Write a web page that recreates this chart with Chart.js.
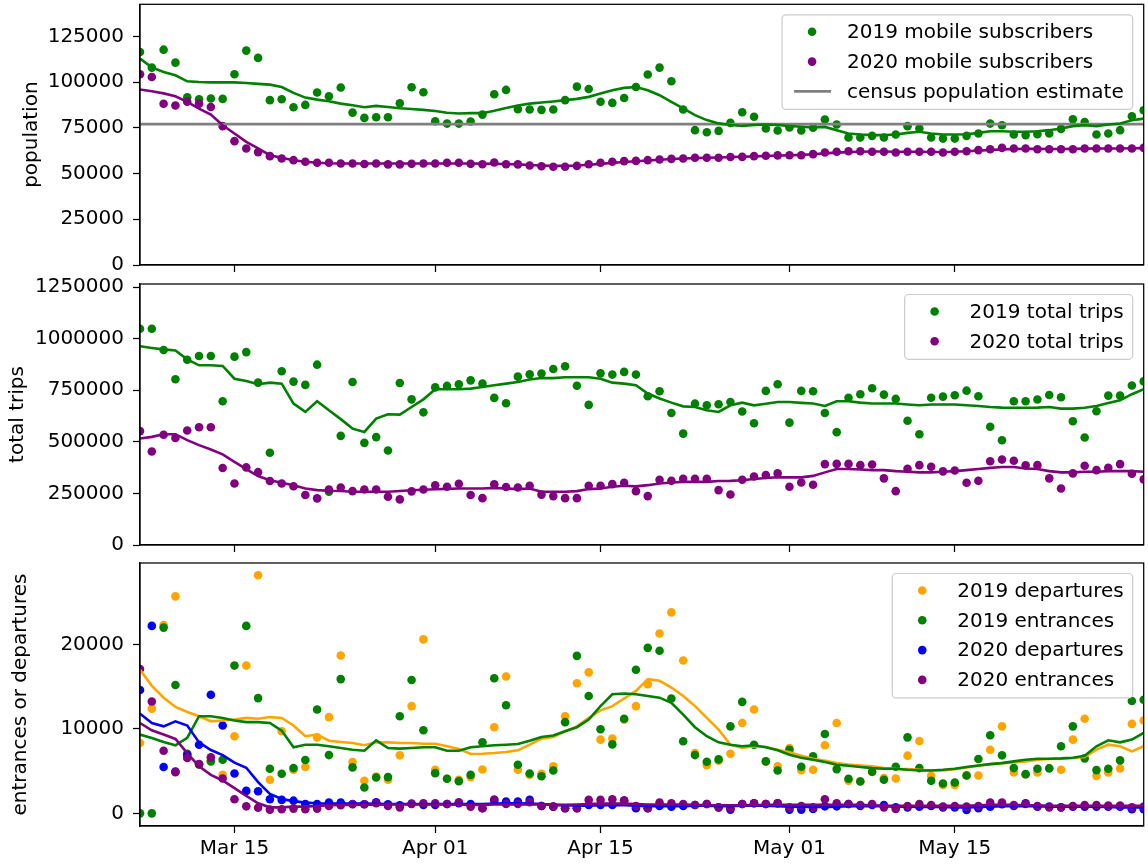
<!DOCTYPE html>
<html>
<head>
<meta charset="utf-8">
<script src="https://cdn.jsdelivr.net/npm/chart.js@4.4.0/dist/chart.umd.min.js"></script>
<style>
  html, body { margin: 0; padding: 0; background: #fff; }
  #wrap { position: relative; width: 1148px; height: 864px; overflow: hidden; }
  canvas { position: absolute; left: 0; }
</style>
</head>
<body>
<div id="wrap">
  <canvas id="popChart" width="1148" height="290" style="top:0px"></canvas>
  <canvas id="tripsChart" width="1148" height="290" style="top:270px"></canvas>
  <canvas id="flowChart" width="1148" height="314" style="top:550px"></canvas>
</div>
<script>
// ---- data (one value per day, Mar 7 .. May 31) ----
const startDay = '2020-03-07';
const tickDates = ['2020-03-15', '2020-04-01', '2020-04-15', '2020-05-01', '2020-05-15'];
const tickLabels = ['Mar 15', 'Apr 01', 'Apr 15', 'May 01', 'May 15'];

const popTicks = [0, 25000, 50000, 75000, 100000, 125000];
const tripTicks = [0, 250000, 500000, 750000, 1000000, 1250000];
const flowTicks = [0, 10000, 20000];

const censusPopulation = 77000;

const pop2019 = [
  116400,107900,117700,110600,91700,90600,91000,90800,104300,117200,
  113200,90100,90600,86200,87500,94300,92200,97000,83300,80400,
  80800,80800,88400,97200,94400,78600,77300,77300,78400,82200,
  93300,95700,85200,85000,84800,85000,90100,97500,96200,89200,
  88600,91300,97300,104100,107900,100400,85000,73700,72600,73300,
  77700,83500,81000,74600,73500,75200,73500,75000,79500,76800,
  69700,69700,70600,69700,71300,75900,74600,69700,69100,69100,
  70600,71900,77300,76400,71300,71000,71500,71900,74400,79700,
  78200,71300,71900,73700,81300,84600];
const pop2020 = [
  104300,102800,88100,87200,89200,88200,86400,75900,67700,63700,
  61700,59500,58200,57300,56400,55900,55900,55500,55500,55200,
  55500,55000,55000,55300,55500,55500,55900,55900,55300,55100,
  56000,55100,55000,54400,54000,53700,53700,54200,55100,55900,
  56400,56800,56900,57300,57700,58000,58200,58600,58600,58600,
  59000,59100,59500,59700,59900,60000,60000,60600,61500,61900,
  62200,62200,61900,61900,61500,61900,61900,61900,61500,61900,
  62200,62800,63300,64000,63700,63700,63300,63300,63300,63300,
  63700,63700,63700,63700,63700,64000];
const pop2019Trend = [
  112800,108000,105500,103700,100400,100000,99800,99800,99800,99500,
  99000,98600,97300,94100,91500,90400,89500,88200,87300,86200,
  87000,86400,85700,85300,84800,84200,83200,82800,83000,83000,
  84300,85800,87200,88200,88800,89400,90100,90800,91900,93700,
  95500,96800,97300,95500,92800,89200,85600,81900,79200,77400,
  76500,76000,76500,76800,76500,76000,75600,75200,75500,73700,
  71900,71300,71000,71000,71300,72200,72800,71900,71300,71300,
  71500,72200,73100,73100,72800,72800,73100,73700,74600,75900,
  76400,75900,76800,77300,79100,80000];
const pop2020Trend = [
  95900,95000,93800,92200,89200,85500,82200,76400,71900,67300,
  63700,60000,58600,57300,56400,55900,55600,55500,55500,55500,
  55500,55500,55500,55500,55500,55500,55500,55500,55500,55400,
  55300,55200,55000,54700,54400,54200,54200,54400,54800,55300,
  55800,56300,56700,57100,57500,57900,58200,58400,58600,58800,
  59000,59200,59400,59600,59800,60000,60200,60500,61000,61400,
  61700,61900,62000,62000,61900,61900,61900,61800,61800,61900,
  62200,62500,62900,63200,63400,63500,63500,63400,63400,63500,
  63600,63700,63700,63700,63800,63900];

const trips2019 = [
  1048000,1048000,945000,803000,898000,916000,916000,697000,913000,935000,
  787000,447000,842000,792000,776000,874000,258000,529000,790000,495000,
  523000,458000,785000,706000,643000,764000,771000,779000,798000,782000,
  713000,687000,816000,827000,831000,853000,866000,772000,679000,832000,
  826000,839000,826000,721000,745000,640000,540000,685000,677000,682000,
  693000,647000,590000,747000,779000,593000,747000,745000,640000,547000,
  714000,731000,760000,729000,708000,602000,537000,714000,719000,726000,
  748000,721000,573000,508000,697000,697000,705000,727000,716000,600000,
  521000,648000,724000,724000,773000,793000];
const trips2020 = [
  552000,453000,534000,519000,555000,571000,571000,373000,298000,376000,
  353000,310000,298000,285000,242000,226000,269000,279000,261000,269000,
  269000,234000,221000,260000,269000,289000,282000,297000,242000,227000,
  294000,281000,279000,287000,244000,237000,227000,227000,287000,287000,
  295000,302000,261000,237000,316000,311000,321000,321000,321000,266000,
  245000,316000,332000,339000,347000,282000,303000,292000,392000,393000,
  393000,387000,390000,323000,261000,369000,387000,379000,357000,361000,
  302000,311000,406000,414000,408000,386000,387000,323000,274000,347000,
  384000,363000,374000,392000,345000,318000];
const trips2019Trend = [
  963000,955000,948000,943000,900000,871000,871000,868000,806000,795000,
  779000,787000,782000,685000,645000,697000,653000,610000,564000,548000,
  613000,634000,632000,669000,706000,755000,755000,755000,758000,766000,
  774000,782000,790000,802000,809000,809000,813000,813000,813000,806000,
  787000,782000,774000,734000,710000,690000,672000,669000,653000,645000,
  677000,690000,677000,685000,693000,693000,689000,686000,674000,697000,
  697000,690000,686000,686000,686000,681000,677000,681000,681000,681000,
  677000,674000,669000,666000,665000,665000,666000,669000,661000,661000,
  665000,674000,688000,701000,731000,755000];
const trips2020Trend = [
  516000,524000,537000,537000,508000,484000,463000,439000,403000,368000,
  334000,314000,302000,290000,274000,266000,263000,262000,258000,258000,
  258000,258000,262000,265000,268000,270000,272000,274000,274000,274000,
  277000,274000,271000,274000,258000,258000,258000,261000,271000,274000,
  282000,287000,284000,290000,298000,303000,306000,306000,306000,310000,
  311000,314000,320000,325000,328000,328000,328000,335000,352000,368000,
  368000,366000,363000,363000,358000,355000,352000,352000,355000,358000,
  363000,368000,374000,378000,378000,371000,368000,358000,352000,352000,
  355000,355000,358000,359000,358000,355000];

const departures2019 = [
  8330,12400,22300,25700,7000,5800,6300,4560,9130,17500,
  28200,3970,9720,5160,5480,9000,11400,18700,6070,3850,
  4370,3970,6870,12700,20600,5160,4090,3970,4290,5200,
  10200,16200,5160,4560,4680,5560,11500,15400,16700,8730,
  8850,11100,12700,15300,21300,23800,18100,7140,5710,6230,
  7060,10700,12300,6150,5560,7740,5120,5160,8060,10700,
  3850,3800,4900,4170,4130,6830,8570,4440,3370,3370,
  4500,4480,7540,10300,4840,4600,4840,5360,5160,8730,
  11200,4440,4840,5320,10600,11000];
const entrances2019 = [
  0,0,22000,15200,7060,5800,6150,6350,17500,22200,
  13650,5280,4680,5360,6310,12300,6900,15900,5440,3060,
  4250,4290,11500,15800,9840,4760,4090,3810,4560,8410,
  16000,12800,5750,4720,4400,5080,10800,18650,13900,9960,
  8170,11200,17000,19600,19250,13600,8530,6900,6110,6390,
  10300,13200,8130,6150,5080,7540,5520,6750,9400,5240,
  4090,3770,4920,3970,5520,9000,5360,3850,3530,3650,
  4480,6430,9250,6870,5360,4640,5280,5320,7940,10300,
  6510,5120,5280,6270,13300,13450];
const departures2020 = [
  14600,22200,5480,4960,6900,8130,14050,10400,4720,2660,
  2620,1670,1590,1500,1100,1100,1270,1270,1110,1070,
  1300,1070,950,1110,1000,1000,1110,1190,1110,600,
  1590,1390,1390,1590,870,790,600,600,990,990,
  990,1510,600,600,870,790,870,990,1110,710,
  440,1110,1190,1110,1190,440,440,520,830,830,
  1110,870,990,990,710,710,790,870,710,710,
  400,600,790,1070,870,1190,790,790,710,790,
  790,790,790,790,480,480];
const entrances2020 = [
  17100,13250,7420,4880,6550,5830,6630,4130,1670,830,
  670,440,480,560,480,560,870,950,1070,1070,
  1190,870,710,1150,1190,1190,1110,1310,790,600,
  1590,1110,1110,1310,870,790,600,600,1590,1590,
  1670,1510,870,600,1270,1190,1110,990,1110,710,
  600,1110,1190,1110,1190,710,870,710,1670,1190,
  1110,990,1110,710,520,870,1110,990,790,870,
  790,870,1270,1270,990,1110,870,710,710,870,
  990,990,910,910,710,790];
const departures2019Trend = [
  17000,15100,13700,12600,12000,11500,10900,11000,11100,11300,
  11200,11400,11300,10400,9130,9330,8600,8450,8330,8060,
  8410,8410,8330,8330,8250,8250,7940,7620,7020,7060,
  7140,7260,7460,8130,8850,9050,9720,10300,11300,12200,
  12700,13600,14500,15900,15700,14900,13900,12700,11300,9920,
  8130,7740,7940,7860,7540,7220,6810,6450,6230,5950,
  5790,5670,5560,5360,5280,5240,5160,5080,5080,5240,
  5440,5630,5830,5950,6030,6150,6350,6430,6470,6550,
  6670,7540,8130,7940,7340,7940];
const entrances2019Trend = [
  9330,8930,8450,8060,8930,11500,11500,11300,11000,10800,
  10800,10700,9800,7820,8130,8130,7940,7740,7540,7420,
  8650,7740,7660,7740,7820,7820,7420,7420,7820,7940,
  8060,8130,8210,8610,9050,9210,9720,10200,11100,12700,
  14100,14200,14100,13900,13700,13100,11700,10200,9130,8410,
  8130,7940,8060,7820,7460,6940,6590,6350,6070,5750,
  5630,5480,5360,5280,5280,5160,5080,5080,5160,5280,
  5480,5670,5830,5950,6150,6350,6470,6470,6510,6590,
  6830,7940,8650,8410,8730,9520];
const departures2020Trend = [
  11800,10700,10300,10900,10400,8400,7500,6900,6000,5400,
  3700,2300,1700,1450,1270,1190,1150,1150,1150,1150,
  1120,1100,1100,1100,1100,1100,1100,1100,1100,1100,
  1150,1200,1200,1150,1100,1000,950,900,900,950,
  1000,950,900,850,850,850,850,900,900,850,
  850,900,900,900,850,800,750,750,750,800,
  850,850,850,850,800,800,750,750,750,700,
  700,750,800,850,850,850,850,800,800,800,
  800,800,750,700,700,700];
const entrances2020Trend = [
  10700,9840,9330,8810,7140,5560,4560,3890,2980,2060,
  1190,710,710,790,790,870,950,990,1000,1020,
  1020,1050,1050,1050,1050,1050,1050,1020,1000,1000,
  1050,1050,1050,1050,1050,1000,1000,1050,1100,1150,
  1150,1150,1100,1050,1050,1050,1050,1000,950,950,
  950,950,950,1000,1000,1000,1000,1000,1000,1000,
  1000,1000,950,900,900,900,900,900,900,900,
  900,950,1000,1000,1000,950,950,900,900,900,
  900,900,900,900,900,900];

// ---- dates on the x axis ----
const dates = [];
for (let i = 0; i < pop2019.length; i++) {
  const d = new Date(startDay + 'T00:00:00Z');
  d.setUTCDate(d.getUTCDate() + i);
  dates.push(d.toISOString().slice(0, 10));
}
const tickDays = tickDates.map(d => dates.indexOf(d));

// ---- styling ----
const FONT_SIZE = 20;
const FONT_FAMILY = '"DejaVu Sans", sans-serif';
Chart.defaults.font.family = FONT_FAMILY;
Chart.defaults.font.size = FONT_SIZE;
Chart.defaults.color = '#000';

const GREEN = '#008000', PURPLE = '#800080', ORANGE = '#ffa500', BLUE = '#0000ff', GREY = '#808080';
const DOT_R = 4.3;
const LINE_W = 2.6;

function points(values) {
  return values.map((v, i) => ({x: i, y: v}));
}

function dots(values, color) {
  return {
    data: points(values), showLine: false,
    pointRadius: DOT_R, pointBorderWidth: 0,
    pointBackgroundColor: color, borderColor: color, backgroundColor: color
  };
}

function trend(values, color) {
  return {
    data: points(values), pointRadius: 0,
    borderColor: color, borderWidth: LINE_W, tension: 0
  };
}

// black box around the plot area, like matplotlib spines
const frame = {
  id: 'frame',
  afterDatasetsDraw(chart) {
    const {ctx, chartArea: a} = chart;
    ctx.save();
    ctx.strokeStyle = '#000';
    ctx.lineWidth = 1.25;
    ctx.strokeRect(a.left, a.top, a.right - a.left, a.bottom - a.top);
    ctx.restore();
  }
};

// matplotlib style legend box in the upper right corner
const mplLegend = {
  id: 'mplLegend',
  afterDraw(chart, args, opts) {
    const entries = opts.entries || [];
    if (!entries.length) return;
    const {ctx, chartArea: a} = chart;
    ctx.save();
    ctx.font = FONT_SIZE + 'px ' + FONT_FAMILY;
    const textW = Math.max(...entries.map(e => ctx.measureText(e.label).width));
    const rowH = 29.8;
    const w = 65 + textW + 9;
    const h = 17 + (entries.length - 1) * rowH + 18;
    const x0 = a.right - 11 - w;
    const y0 = a.top + 10.5;
    const r = 4;
    ctx.beginPath();
    ctx.moveTo(x0 + r, y0);
    ctx.lineTo(x0 + w - r, y0);
    ctx.arcTo(x0 + w, y0, x0 + w, y0 + r, r);
    ctx.lineTo(x0 + w, y0 + h - r);
    ctx.arcTo(x0 + w, y0 + h, x0 + w - r, y0 + h, r);
    ctx.lineTo(x0 + r, y0 + h);
    ctx.arcTo(x0, y0 + h, x0, y0 + h - r, r);
    ctx.lineTo(x0, y0 + r);
    ctx.arcTo(x0, y0, x0 + r, y0, r);
    ctx.closePath();
    ctx.fillStyle = 'rgba(255,255,255,0.8)';
    ctx.fill();
    ctx.strokeStyle = '#cccccc';
    ctx.lineWidth = 1.2;
    ctx.stroke();
    entries.forEach((e, k) => {
      const y = y0 + 17 + k * rowH;
      if (e.line) {
        ctx.strokeStyle = e.color;
        ctx.lineWidth = LINE_W;
        ctx.beginPath();
        ctx.moveTo(x0 + 12, y);
        ctx.lineTo(x0 + 49, y);
        ctx.stroke();
      } else {
        ctx.fillStyle = e.color;
        ctx.beginPath();
        ctx.arc(x0 + 30, y, DOT_R, 0, Math.PI * 2);
        ctx.fill();
      }
      ctx.fillStyle = '#000';
      ctx.textBaseline = 'middle';
      ctx.textAlign = 'left';
      ctx.fillText(e.label, x0 + 65, y + 1);
    });
    ctx.restore();
  }
};

function makePanel(id, p) {
  const datasets = p.datasets;
  // later datasets are painted on top
  datasets.forEach((d, k) => { d.order = datasets.length - k; });
  const axisLine = {color: '#000', width: 1.25};
  const tickGrid = {drawOnChartArea: false, tickLength: 7, tickWidth: 1.25, tickColor: '#000'};
  return new Chart(document.getElementById(id), {
    type: 'line',
    data: {datasets},
    options: {
      responsive: false,
      animation: false,
      events: [],
      layout: {padding: {top: p.padTop, right: 2, left: 0, bottom: 0}},
      scales: {
        x: {
          type: 'linear',
          min: 0,
          max: dates.length - 1,
          afterBuildTicks: s => { s.ticks = tickDays.map(v => ({value: v})); },
          afterFit: s => { s.height = p.xHeight; s.paddingLeft = 0; s.paddingRight = 0; },
          ticks: {
            display: p.showXLabels, autoSkip: false, maxRotation: 0, padding: 4,
            callback: v => tickLabels[tickDays.indexOf(v)]
          },
          grid: tickGrid,
          border: axisLine
        },
        y: {
          min: p.yMin,
          max: p.yMax,
          afterBuildTicks: s => { s.ticks = p.yTicks.map(v => ({value: v})); },
          afterFit: s => { s.width = 140; s.paddingTop = 0; s.paddingBottom = 0; },
          ticks: {padding: 9, callback: v => String(v)},
          grid: tickGrid,
          border: axisLine,
          title: {display: true, text: p.yTitle, padding: {top: p.titlePad, bottom: 0}}
        }
      },
      plugins: {
        legend: {display: false},
        tooltip: {enabled: false},
        mplLegend: {entries: p.legend}
      }
    },
    plugins: [frame, mplLegend]
  });
}

const lastDay = pop2019.length - 1;

makePanel('popChart', {
  padTop: 4, xHeight: 25, showXLabels: false, titlePad: 20,
  yMin: 0, yMax: 142500, yTicks: popTicks, yTitle: 'population',
  datasets: [
    dots(pop2019, GREEN),
    dots(pop2020, PURPLE),
    {data: [{x: 0, y: censusPopulation}, {x: lastDay, y: censusPopulation}],
     pointRadius: 0, borderColor: GREY, borderWidth: LINE_W},
    trend(pop2019Trend, GREEN),
    trend(pop2020Trend, PURPLE)
  ],
  legend: [
    {label: '2019 mobile subscribers', color: GREEN},
    {label: '2020 mobile subscribers', color: PURPLE},
    {label: 'census population estimate', color: GREY, line: true}
  ]
});

makePanel('tripsChart', {
  padTop: 14, xHeight: 15, showXLabels: false, titlePad: 6,
  yMin: 0, yMax: 1265000, yTicks: tripTicks, yTitle: 'total trips',
  datasets: [
    dots(trips2019, GREEN),
    dots(trips2020, PURPLE),
    trend(trips2019Trend, GREEN),
    trend(trips2020Trend, PURPLE)
  ],
  legend: [
    {label: '2019 total trips', color: GREEN},
    {label: '2020 total trips', color: PURPLE}
  ]
});

makePanel('flowChart', {
  padTop: 13, xHeight: 38, showXLabels: true, titlePad: 9,
  yMin: -1500, yMax: 29650, yTicks: flowTicks, yTitle: 'entrances or departures',
  datasets: [
    dots(departures2019, ORANGE),
    dots(entrances2019, GREEN),
    dots(departures2020, BLUE),
    dots(entrances2020, PURPLE),
    trend(departures2019Trend, ORANGE),
    trend(entrances2019Trend, GREEN),
    trend(departures2020Trend, BLUE),
    trend(entrances2020Trend, PURPLE)
  ],
  legend: [
    {label: '2019 departures', color: ORANGE},
    {label: '2019 entrances', color: GREEN},
    {label: '2020 departures', color: BLUE},
    {label: '2020 entrances', color: PURPLE}
  ]
});
</script>
</body>
</html>
